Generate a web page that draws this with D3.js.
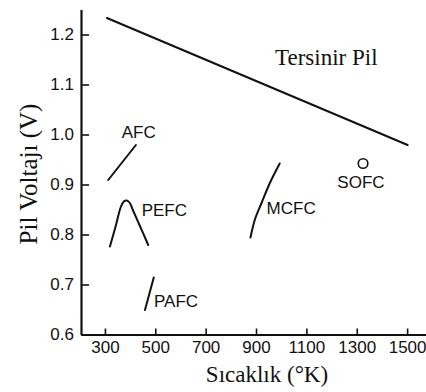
<!DOCTYPE html>
<html>
<head>
<meta charset="utf-8">
<script src="https://cdn.jsdelivr.net/npm/d3@7"></script>
<style>
  html, body { margin: 0; padding: 0; background: #fff; }
  svg { display: block; }
  .sans { font-family: "Liberation Sans", Arial, sans-serif; font-size: 17px; fill: #111; }
  .serif { font-family: "Liberation Serif", "Times New Roman", serif; fill: #111; }
</style>
</head>
<body>
<svg id="chart" width="426" height="392"></svg>
<script>
// Temperature ticks (K) and voltage ticks (V)
const xTicks = [300, 500, 700, 900, 1100, 1300, 1500];
const yTicks = [0.6, 0.7, 0.8, 0.9, 1.0, 1.1, 1.2];

// Reversible cell voltage vs temperature
const reversibleT = [308, 1502];
const reversibleV = [1.233, 0.979];

// Operating ranges of each fuel cell type
const afcT = [313, 423];
const afcV = [0.909, 0.979];

const pefcT = [320, 344, 363, 375, 387, 399, 411, 439, 472];
const pefcV = [0.776, 0.819, 0.855, 0.866, 0.868, 0.863, 0.849, 0.817, 0.779];

const pafcT = [459, 494];
const pafcV = [0.649, 0.714];

const mcfcT = [878, 895, 922, 955, 994];
const mcfcV = [0.794, 0.829, 0.863, 0.903, 0.942];

const sofcT = [1325];
const sofcV = [0.942];

// Label anchors (T, V) for each cell type, at the start of the text
const labelNames = ["AFC", "PEFC", "PAFC", "MCFC", "SOFC"];
const labelT = [367, 446, 495, 942, 1223];
const labelV = [0.994, 0.838, 0.656, 0.841, 0.894];

const svg = d3.select("#chart");

const x = d3.scaleLinear().domain([205, 1575]).range([81, 426]);
const y = d3.scaleLinear().domain([0.6, 1.25]).range([334.5, 9.5]);

// Axes with inward ticks
const xAxis = d3.axisBottom(x).tickValues(xTicks).tickSizeInner(-6).tickSizeOuter(0).tickPadding(6)
  .tickFormat(d3.format("d"));
const yAxis = d3.axisLeft(y).tickValues(yTicks).tickSizeInner(-8).tickSizeOuter(0).tickPadding(7)
  .tickFormat(d3.format(".1f"));

const gx = svg.append("g").attr("transform", `translate(0,${y(0.6)})`).call(xAxis);
const gy = svg.append("g").attr("transform", `translate(${x(205)},0)`).call(yAxis);

[gx, gy].forEach(g => {
  g.select(".domain").attr("stroke", "#111").attr("stroke-width", 2.2);
  g.selectAll(".tick line").attr("stroke", "#111").attr("stroke-width", 1.6);
  g.selectAll(".tick text").attr("class", "sans").attr("fill", "#111")
    .style("font-size", "17px").style("font-family", "'Liberation Sans', Arial, sans-serif");
});
gx.selectAll(".tick text").attr("dy", "0.71em");

const line = d3.line().x(d => x(d[0])).y(d => y(d[1]));
const curve = d3.line().x(d => x(d[0])).y(d => y(d[1])).curve(d3.curveCatmullRom.alpha(0.5));

const zip = (a, b) => a.map((v, i) => [v, b[i]]);

const paths = [
  [zip(reversibleT, reversibleV), line],
  [zip(afcT, afcV), line],
  [zip(pefcT, pefcV), curve],
  [zip(pafcT, pafcV), line],
  [zip(mcfcT, mcfcV), curve]
];

svg.append("g").selectAll("path").data(paths).join("path")
  .attr("d", d => d[1](d[0]))
  .attr("fill", "none")
  .attr("stroke", "#111")
  .attr("stroke-width", 2)
  .attr("stroke-linecap", "round");

svg.append("g").selectAll("circle").data(zip(sofcT, sofcV)).join("circle")
  .attr("cx", d => x(d[0])).attr("cy", d => y(d[1])).attr("r", 4.8)
  .attr("fill", "none").attr("stroke", "#111").attr("stroke-width", 1.6);

svg.append("g").selectAll("text").data(labelNames).join("text")
  .attr("class", "sans")
  .attr("x", (d, i) => x(labelT[i]))
  .attr("y", (d, i) => y(labelV[i]))
  .text(d => d);

svg.append("text").attr("class", "serif")
  .attr("x", 275).attr("y", 65)
  .style("font-size", "23px")
  .text("Tersinir Pil");

svg.append("text").attr("class", "serif")
  .attr("x", 267).attr("y", 382)
  .attr("text-anchor", "middle")
  .style("font-size", "23px")
  .text("Sıcaklık (°K)");

svg.append("text").attr("class", "serif")
  .attr("transform", "translate(37,174) rotate(-90)")
  .attr("text-anchor", "middle")
  .style("font-size", "25px")
  .text("Pil Voltajı (V)");
</script>
</body>
</html>
